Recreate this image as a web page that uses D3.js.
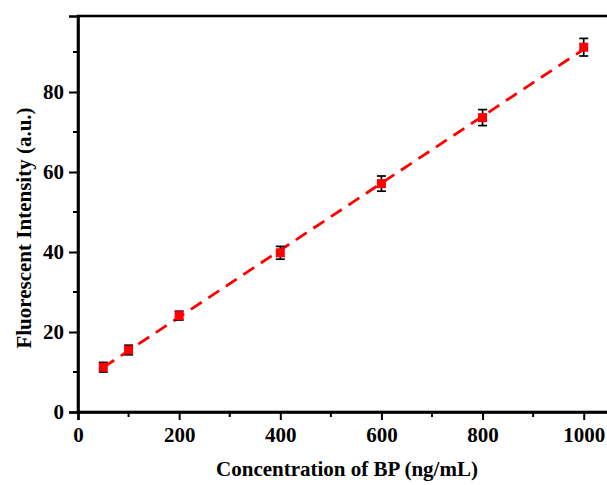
<!DOCTYPE html>
<html>
<head>
<meta charset="utf-8">
<script src="https://cdn.jsdelivr.net/npm/d3@7"></script>
<style>
  body { margin: 0; background: #fff; }
  svg { display: block; font-family: "Liberation Serif", "Times New Roman", serif; font-weight: bold; }
</style>
</head>
<body>
<svg id="chart"></svg>
<script>
// data
const conc = [50, 100, 200, 400, 600, 800, 1000];
const intensity = [11.2, 15.5, 24.1, 39.8, 57.1, 73.6, 91.2];
const errs = [1.2, 1.2, 1.1, 1.6, 1.9, 2.0, 2.2];
const xTicks = [0, 200, 400, 600, 800, 1000];
const yTicks = [0, 20, 40, 60, 80];

const width = 607, height = 485;
const marginLeft = 78, marginTop = 16, marginBottom = 73;

const svg = d3.select("#chart")
    .attr("width", width)
    .attr("height", height);

const x = d3.scaleLinear().domain([0, 1050]).range([marginLeft, marginLeft + 531]);
const y = d3.scaleLinear().domain([0, 99]).range([height - marginBottom, marginTop]);

// frame
svg.append("rect")
    .attr("x", x(0)).attr("y", y(99))
    .attr("width", x(1050) - x(0)).attr("height", y(0) - y(99))
    .attr("fill", "none").attr("stroke", "#000").attr("stroke-width", 2.6);

// x axis
const xAxis = svg.append("g").attr("transform", `translate(0,${y(0)})`);
xAxis.call(d3.axisBottom(x).tickValues(xTicks).tickSize(8).tickPadding(7).tickFormat(d3.format("d")));
xAxis.selectAll(".minor")
    .data(d3.range(100, 1050, 200))
    .enter().append("line")
    .attr("x1", d => x(d)).attr("x2", d => x(d))
    .attr("y1", 0).attr("y2", 5)
    .attr("stroke", "#000").attr("stroke-width", 2);

// y axis
const yAxis = svg.append("g").attr("transform", `translate(${x(0)},0)`);
yAxis.call(d3.axisLeft(y).tickValues(yTicks).tickSize(9).tickPadding(5));
yAxis.selectAll(".minor")
    .data(d3.range(10, 99, 20))
    .enter().append("line")
    .attr("x1", 0).attr("x2", -5)
    .attr("y1", d => y(d)).attr("y2", d => y(d))
    .attr("stroke", "#000").attr("stroke-width", 2);

svg.selectAll(".domain").attr("stroke-width", 2.6);
svg.selectAll(".tick line").attr("stroke-width", 2);
svg.selectAll(".tick text")
    .attr("font-size", 21)
    .attr("font-weight", "bold")
    .attr("font-family", "Liberation Serif, serif")
    .attr("fill", "#000");

// linear fit through the points
const mx = d3.mean(conc), my = d3.mean(intensity);
const slope = d3.sum(conc, (c, i) => (c - mx) * (intensity[i] - my)) / d3.sum(conc, c => (c - mx) ** 2);
const icpt = my - slope * mx;
const fitX = [conc[0], conc[conc.length - 1]];

svg.append("path")
    .datum(fitX)
    .attr("fill", "none")
    .attr("stroke", "#ff0000")
    .attr("stroke-width", 2.8)
    .attr("stroke-dasharray", "13,8")
    .attr("d", d3.line().x(d => x(d)).y(d => y(icpt + slope * d)));

// error bars
const pts = conc.map((c, i) => ({c, v: intensity[i], e: errs[i]}));
const eb = svg.append("g").attr("stroke", "#000").attr("stroke-width", 1.7);
pts.forEach(d => {
    eb.append("line").attr("x1", x(d.c)).attr("x2", x(d.c)).attr("y1", y(d.v - d.e)).attr("y2", y(d.v + d.e));
    [d.v - d.e, d.v + d.e].forEach(v => {
        eb.append("line").attr("x1", x(d.c) - 4.5).attr("x2", x(d.c) + 4.5).attr("y1", y(v)).attr("y2", y(v));
    });
});

// markers
svg.append("g").selectAll("rect")
    .data(pts)
    .enter().append("rect")
    .attr("x", d => x(d.c) - 4.5)
    .attr("y", d => y(d.v) - 4.5)
    .attr("width", 9).attr("height", 9)
    .attr("fill", "#ff0000");

// axis titles
svg.append("text")
    .attr("x", 347).attr("y", 476)
    .attr("text-anchor", "middle")
    .attr("font-size", 21)
    .text("Concentration of BP (ng/mL)");

svg.append("text")
    .attr("transform", `translate(31,228) rotate(-90)`)
    .attr("text-anchor", "middle")
    .attr("font-size", 21)
    .text("Fluorescent Intensity (a.u.)");
</script>
</body>
</html>
